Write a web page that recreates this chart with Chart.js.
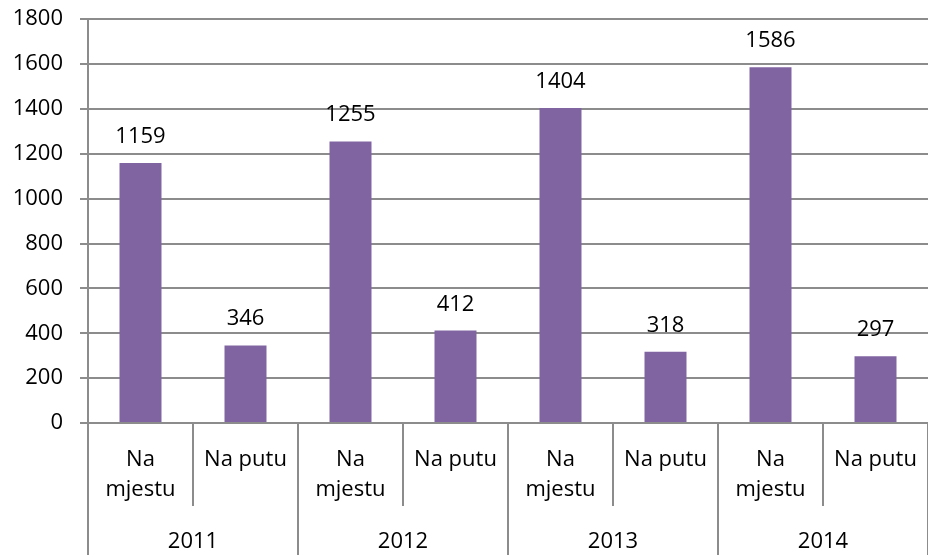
<!DOCTYPE html>
<html>
<head>
<meta charset="utf-8">
<script src="https://cdn.jsdelivr.net/npm/chart.js@4.4.0/dist/chart.umd.min.js"></script>
<style>
  html, body { margin: 0; padding: 0; background: #fff; }
  #wrap { width: 928px; height: 555px; position: relative; }
</style>
</head>
<body>
<div id="wrap"><canvas id="chart"></canvas></div>
<script>
// ---- data ----
var years = ['2011', '2012', '2013', '2014'];
var subLabels = [['Na', 'mjestu'], 'Na putu'];
var values = [1159, 346, 1255, 412, 1404, 318, 1586, 297];
var yTicks = [0, 200, 400, 600, 800, 1000, 1200, 1400, 1600, 1800];

var FONT = '"Open Sans", sans-serif';
var LINE = '#8c8c8c';

var labels = [];
years.forEach(function() { subLabels.forEach(function(s) { labels.push(s); }); });

// value labels above bars + two-level category axis
var excelAxis = {
  id: 'excelAxis',
  afterDatasetsDraw: function(chart) {
    var c = chart.ctx, meta = chart.getDatasetMeta(0);
    c.save();
    c.font = '22px ' + FONT;
    c.fillStyle = '#000';
    c.textAlign = 'center';
    c.textBaseline = 'alphabetic';
    meta.data.forEach(function(bar, i) {
      c.fillText(String(values[i]), bar.x, bar.y - 20);
    });
    c.restore();
  },
  afterDraw: function(chart) {
    var c = chart.ctx, x = chart.scales.x, a = chart.chartArea;
    var n = labels.length, per = subLabels.length;
    c.save();
    c.strokeStyle = LINE;
    c.lineWidth = 2;
    for (var i = 0; i <= n; i++) {
      var px;
      if (i === 0) px = a.left;
      else if (i === n) px = a.right;
      else px = (x.getPixelForValue(i - 1) + x.getPixelForValue(i)) / 2;
      var bottom = (i % per === 0) ? chart.height : a.bottom + 83;
      c.beginPath();
      c.moveTo(px, a.bottom);
      c.lineTo(px, bottom);
      c.stroke();
    }
    c.font = '22px ' + FONT;
    c.fillStyle = '#000';
    c.textAlign = 'center';
    c.textBaseline = 'alphabetic';
    years.forEach(function(y, k) {
      var cx = (x.getPixelForValue(k * per) + x.getPixelForValue(k * per + per - 1)) / 2;
      c.fillText(y, cx, a.bottom + 125);
    });
    c.restore();
  }
};

new Chart(document.getElementById('chart').getContext('2d'), {
  type: 'bar',
  data: {
    labels: labels,
    datasets: [{
      data: values,
      backgroundColor: '#8064a2',
      borderWidth: 0,
      categoryPercentage: 1,
      barPercentage: 0.4
    }]
  },
  options: {
    responsive: true, maintainAspectRatio: false,
    animation: false,
    devicePixelRatio: 1,
    layout: { padding: { top: 10, right: 0, left: 0, bottom: 0 } },
    plugins: { legend: { display: false }, tooltip: { enabled: false } },
    scales: {
      x: {
        // invisible tick marks only push the labels down
        grid: { display: true, drawOnChartArea: false, drawTicks: true, tickLength: 21, color: 'rgba(0,0,0,0)' },
        border: { display: false },
        ticks: {
          color: '#000', font: { family: FONT, size: 22, lineHeight: 1.4 },
          padding: 0, maxRotation: 0, autoSkip: false
        },
        afterFit: function(s) { s.height = 132; }
      },
      y: {
        min: 0, max: 1800,
        afterBuildTicks: function(s) { s.ticks = yTicks.map(function(v) { return { value: v }; }); },
        grid: { color: LINE, lineWidth: 2, tickLength: 8 },
        border: { color: LINE, width: 2 },
        ticks: {
          color: '#000', font: { family: FONT, size: 22, lineHeight: 0.2 }, padding: 17,
          callback: function(v) { return String(v); }
        },
        afterFit: function(s) { s.width = 88; }
      }
    }
  },
  plugins: [excelAxis]
});
</script>
</body>
</html>
